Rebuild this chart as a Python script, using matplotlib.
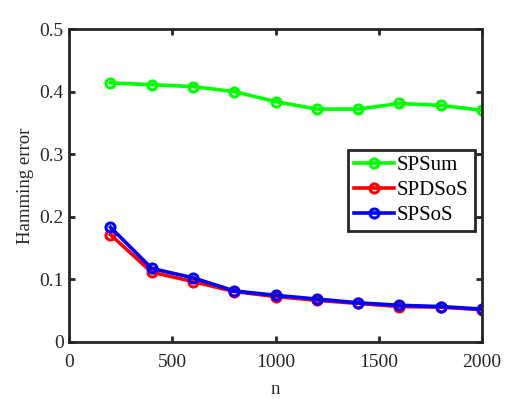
import numpy as np
import matplotlib.pyplot as plt

plt.rcParams['font.family'] = ['Liberation Serif', 'DejaVu Serif']
plt.rcParams['mathtext.fontset'] = 'stix'

# data
n = [200, 400, 600, 800, 1000, 1200, 1400, 1600, 1800, 2000]
sp_sum = [0.414, 0.411, 0.408, 0.400, 0.384, 0.372, 0.372, 0.381, 0.378, 0.370]
sp_dsos = [0.171, 0.111, 0.096, 0.080, 0.072, 0.066, 0.061, 0.056, 0.055, 0.051]
sp_sos = [0.183, 0.117, 0.102, 0.081, 0.074, 0.068, 0.062, 0.058, 0.056, 0.052]

labels = ["SPSum", "SPDSoS", "SPSoS"]
colors = ["#00ff00", "#ff0000", "#0000ff"]

fig = plt.figure(figsize=(5.32, 3.99), dpi=100)
ax = fig.add_axes([0.130, 0.144, 0.776, 0.783])

for y, lab, c in zip([sp_sum, sp_dsos, sp_sos], labels, colors):
    ax.plot(n, y, color=c, lw=2.6, marker="o", ms=6.5, mfc="none",
            mew=2.2, label=lab)

ax.set_xlim(0, 2000)
ax.set_ylim(0, 0.5)
ax.set_xticks([0, 500, 1000, 1500, 2000])
ax.set_yticks([0, 0.1, 0.2, 0.3, 0.4, 0.5])
ax.set_yticklabels(["0", "0.1", "0.2", "0.3", "0.4", "0.5"])
ax.set_xlabel("n", fontsize=13.5, color="#262626", labelpad=7)
ax.set_ylabel("Hamming error", fontsize=13.5, color="#262626")

for s in ax.spines.values():
    s.set_linewidth(2.0)
    s.set_color("#262626")
ax.tick_params(direction="in", length=4, width=2.0, top=True, right=True,
               labelsize=14, colors="#262626", pad=4)
ax.tick_params(axis="x", pad=9)

leg = ax.legend(loc="center right", bbox_to_anchor=(0.983, 0.484),
                fontsize=15, fancybox=False, framealpha=1,
                borderpad=0.3, labelspacing=0.25, handlelength=1.9,
                handletextpad=0.15, borderaxespad=0)
leg.get_frame().set_edgecolor("#262626")
leg.get_frame().set_linewidth(2.0)

fig.savefig("out.png", dpi=100)
